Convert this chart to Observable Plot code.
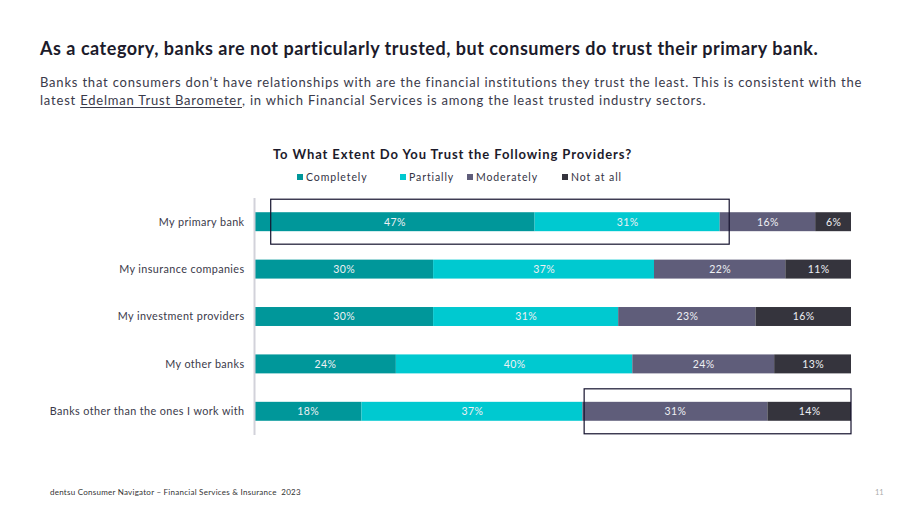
<!DOCTYPE html>
<html>
<head>
<meta charset="utf-8">
<script src="https://cdn.jsdelivr.net/npm/d3@7"></script>
<script src="https://cdn.jsdelivr.net/npm/@observablehq/plot@0.6"></script>
<style>
  html, body { margin: 0; padding: 0; background: #fff; }
  body { width: 920px; height: 518px; position: relative; overflow: hidden; font-family: Lato, "Open Sans", sans-serif; color: #1c1b2b; }
  .title { position: absolute; left: 40px; top: 37px; font-size: 18px; font-weight: 700; letter-spacing: 0.52px; white-space: nowrap; }
  .sub { position: absolute; left: 40px; top: 74px; width: 850px; font-size: 13px; line-height: 17.5px; color: #3a3a4a; letter-spacing: 0.8px; }
  .sub u { text-underline-offset: 2px; }
  .ctitle { position: absolute; left: 0; width: 905px; top: 146px; text-align: center; font-size: 13px; font-weight: 700; letter-spacing: 0.9px; }
  .legend { position: absolute; top: 171px; left: 0; width: 920px; font-size: 10.5px; color: #333344; letter-spacing: 0.9px; }
  .legend span { position: absolute; white-space: nowrap; }
  .legend i { display: inline-block; width: 6px; height: 6px; margin-right: 3px; vertical-align: 1px; }
  #chart { position: absolute; left: 0; top: 191px; }
  .foot { position: absolute; left: 50px; top: 487px; font-size: 8px; color: #333; letter-spacing: 0.25px; white-space: nowrap; }
  .page { position: absolute; left: 875px; top: 488px; font-size: 7.5px; color: #aaa; }
</style>
</head>
<body>
<div class="title">As a category, banks are not particularly trusted, but consumers do trust their primary bank.</div>
<div class="sub">Banks that consumers don’t have relationships with are the financial institutions they trust the least. This is consistent with the latest <u>Edelman Trust Barometer</u>, in which Financial Services is among the least trusted industry sectors.</div>
<div class="ctitle">To What Extent Do You Trust the Following Providers?</div>
<div class="legend" id="legend"></div>
<div id="chart"></div>
<div class="foot">dentsu Consumer Navigator – Financial Services &amp; Insurance&nbsp; 2023</div>
<div class="page">11</div>
<script>
// Survey categories and answer levels
const providers = [
  "My primary bank",
  "My insurance companies",
  "My investment providers",
  "My other banks",
  "Banks other than the ones I work with"
];
const levels = ["Completely", "Partially", "Moderately", "Not at all"];
const levelColors = ["#00979a", "#00c9d0", "#5f5d7a", "#35343d"];

// Share of respondents (%) per level, one array per provider
const completely = [47, 30, 30, 24, 18];
const partially  = [31, 37, 31, 40, 37];
const moderately = [16, 22, 23, 24, 31];
const notAtAll   = [6, 11, 16, 13, 14];

// Callout boxes (in percent of the bar)
const highlights = [
  {provider: "My primary bank", from: 2.8, to: 79.6},
  {provider: "Banks other than the ones I work with", from: 55.3, to: 100}
];

const series = [completely, partially, moderately, notAtAll];
const rows = [];
providers.forEach((p, i) => {
  levels.forEach((l, j) => rows.push({provider: p, level: l, value: series[j][i]}));
});

// Legend
const legendX = [298, 401, 468, 563];
const legend = document.getElementById("legend");
levels.forEach((l, j) => {
  const s = document.createElement("span");
  s.style.left = (legendX[j] - 1) + "px";
  s.innerHTML = `<i style="background:${levelColors[j]}"></i>${l}`;
  legend.appendChild(s);
});

// Stacked bars, normalized so each row fills the full width
const stack = {x: "value", y: "provider", z: "level", offset: "normalize"};

const chart = Plot.plot({
  width: 920,
  height: 255,
  marginLeft: 254,
  marginRight: 69,
  marginTop: 7,
  marginBottom: 11,
  style: {fontFamily: "Lato, 'Open Sans', sans-serif", background: "transparent", letterSpacing: "0.4px"},
  x: {domain: [0, 1], axis: null},
  y: {domain: providers, paddingInner: 0.6, paddingOuter: 0.3, round: false, label: null, axis: null},
  color: {domain: levels, range: levelColors},
  marks: [
    Plot.barX(rows, Plot.stackX({...stack, fill: "level"})),
    Plot.text(rows, Plot.stackX({
      ...stack,
      text: d => d.value + "%",
      fill: "#eef0f4",
      fontSize: 10.5
    })),
    Plot.ruleX([0], {stroke: "#d2d2da", strokeWidth: 2}),
    Plot.barX(highlights, {
      y: "provider",
      x1: d => d.from / 100,
      x2: d => d.to / 100,
      fill: "none",
      stroke: "#14122e",
      strokeWidth: 1.2,
      insetTop: -13,
      insetBottom: -13
    }),
    Plot.axisY({tickSize: 0, tickPadding: 10, fontSize: 10.8, fill: "#3a3a4a", label: null})
  ]
});
document.getElementById("chart").appendChild(chart);
</script>
</body>
</html>
